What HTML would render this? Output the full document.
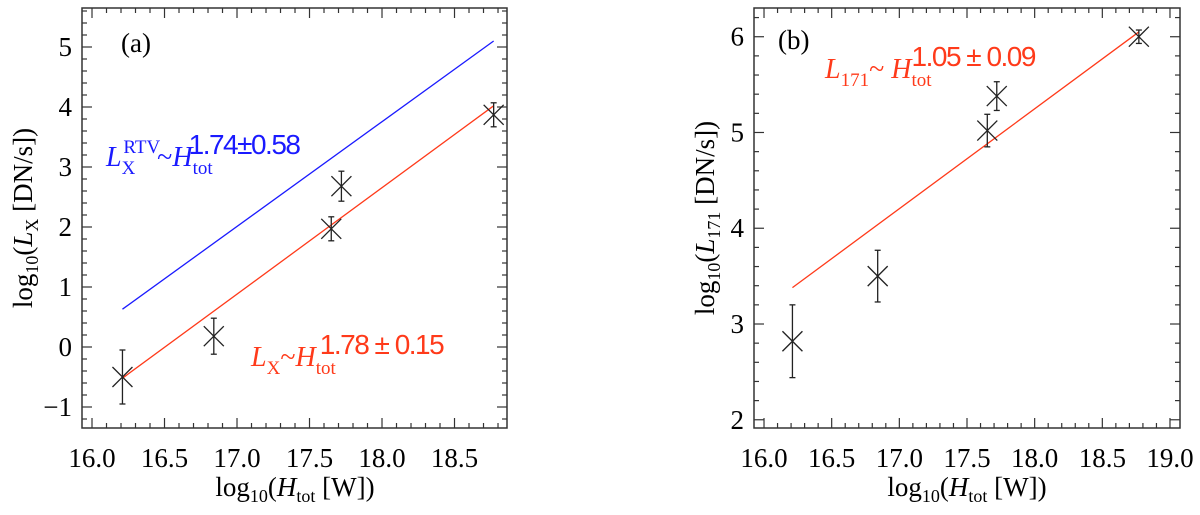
<!DOCTYPE html>
<html><head><meta charset="utf-8"><style>
body{margin:0;background:#fff}
</style></head><body>
<svg id="c" width="1200" height="510" xmlns="http://www.w3.org/2000/svg" font-family="Liberation Serif, serif"></svg>
<script>
const xVals=[16.21,16.84,17.65,17.72,18.77];
const yA=[-0.5,0.18,1.97,2.68,3.87];
const errA=[0.45,0.3,0.2,0.25,0.2];
const yB=[2.82,3.5,5.02,5.38,6.0];
const errB=[0.38,0.27,0.17,0.15,0.07];
const fitRedA=[[16.21,-0.52],[18.77,4.02]];
const fitBlueA=[[16.21,0.63],[18.77,5.1]];
const fitRedB=[[16.21,3.38],[18.77,6.05]];
const xTicksA=[16.0,16.5,17.0,17.5,18.0,18.5];
const yTicksA=[-1,0,1,2,3,4,5];
const xTicksB=[16.0,16.5,17.0,17.5,18.0,18.5,19.0];
const yTicksB=[2,3,4,5,6];
const NS="http://www.w3.org/2000/svg";
const svg=document.getElementById('c');
function mk(t,a,p){const e=document.createElementNS(NS,t);for(const k in a)e.setAttribute(k,a[k]);(p||svg).appendChild(e);return e;}
function panel(P){
 const g=mk('g',{});
 
 
 const X=v=>P.x0+(v-P.xmin)/(P.xmax-P.xmin)*(P.x1-P.x0);
 const Y=v=>P.y1-(v-P.ymin)/(P.ymax-P.ymin)*(P.y1-P.y0);
 const fr=mk('rect',{x:P.x0,y:P.y0,width:P.x1-P.x0,height:P.y1-P.y0,fill:'none',stroke:'#333','stroke-width':1.5},g);
 
 
 for(let v=Math.ceil(P.xmin*10)/10;v<=P.xmax+1e-9;v+=0.1){const px=X(v);const maj=Math.abs(v*2-Math.round(v*2))<1e-6;const L=maj?10:5;
  mk('line',{x1:px,y1:P.y1,x2:px,y2:P.y1-L,stroke:'#333','stroke-width':1.2},g);
  mk('line',{x1:px,y1:P.y0,x2:px,y2:P.y0+L,stroke:'#333','stroke-width':1.2},g);}
 for(let v=Math.ceil(P.ymin*5)/5;v<=P.ymax+1e-9;v+=0.2){const py=Y(v);const maj=Math.abs(v-Math.round(v))<1e-6;const L=maj?10:5;
  mk('line',{x1:P.x0,y1:py,x2:P.x0+L,y2:py,stroke:'#333','stroke-width':1.2},g);
  mk('line',{x1:P.x1,y1:py,x2:P.x1-L,y2:py,stroke:'#333','stroke-width':1.2},g);}
 P.xt.forEach(v=>{const t=mk('text',{x:X(v),y:P.y1+39,'font-size':27,'text-anchor':'middle'},g);t.style.fontFamily='"Liberation Serif", serif';t.textContent=v.toFixed(1);
  });
 P.yt.forEach(v=>{const t=mk('text',{x:P.x0-10,y:Y(v)+9,'font-size':27,'text-anchor':'end'},g);t.style.fontFamily='"Liberation Serif", serif';t.textContent=v<0?'\u2212'+(-v):String(v);
  });
 P.lines.forEach(([d,c,n])=>{const l=mk('line',{x1:X(d[0][0]),y1:Y(d[0][1]),x2:X(d[1][0]),y2:Y(d[1][1]),stroke:c,'stroke-width':1.3},g);
  });
 xVals.forEach((xv,i)=>{const px=X(xv),py=Y(P.ys[i]);const pg=mk('g',{stroke:'#222','stroke-width':1.3},g);
  
  const t=Y(P.ys[i]+P.err[i]),b=Y(P.ys[i]-P.err[i]);
  mk('line',{x1:px,y1:t,x2:px,y2:b},pg);mk('line',{x1:px-3,y1:t,x2:px+3,y2:t},pg);mk('line',{x1:px-3,y1:b,x2:px+3,y2:b},pg);
  mk('line',{x1:px-10,y1:py-10,x2:px+10,y2:py+10},pg);mk('line',{x1:px-10,y1:py+10,x2:px+10,y2:py-10},pg);});
 return g;
}
panel({name:'panel-a',x0:82,x1:507,y0:8,y1:428,xmin:15.931,xmax:18.862,ymin:-1.35,ymax:5.65,xt:xTicksA,yt:yTicksA,ys:yA,err:errA,
 lines:[[fitRedA,'#ff3a1a','fit-line-observed'],[fitBlueA,'#1a1aff','fit-line-rtv']]});
panel({name:'panel-b',x0:754,x1:1180,y0:8,y1:428,xmin:15.926,xmax:19.074,ymin:1.914,ymax:6.30,xt:xTicksB,yt:yTicksB,ys:yB,err:errB,
 lines:[[fitRedB,'#ff3a1a','fit-line-171']]});
</script>
<svg width="1200" height="510" style="position:absolute;left:0;top:0" xmlns="http://www.w3.org/2000/svg">
<g font-family="Liberation Serif, serif">
<text x="121" y="52" font-size="27">(a)</text>
<text x="778" y="49" font-size="27">(b)</text>
<text x="106" y="166" font-size="28" fill="#1a1aff"><tspan font-style="italic">L</tspan><tspan font-size="19" dy="8">X</tspan><tspan font-size="19" dx="-12" dy="-21">RTV</tspan><tspan dx="-3" dy="13">~</tspan><tspan font-style="italic">H</tspan><tspan font-size="19" dy="8">tot</tspan><tspan font-family="Liberation Sans, sans-serif" font-size="28" letter-spacing="-1.5" dx="-24" dy="-20">1.74±0.58</tspan></text>
<text x="251" y="366" font-size="28" fill="#ff3a1a"><tspan font-style="italic">L</tspan><tspan font-size="19" dy="8">X</tspan><tspan dy="-8">~</tspan><tspan font-style="italic">H</tspan><tspan font-size="19" dy="8">tot</tspan><tspan font-family="Liberation Sans, sans-serif" font-size="28" letter-spacing="-1.5" dx="-16" dy="-20">1.78 ± 0.15</tspan></text>
<text x="825" y="78" font-size="28" fill="#ff3a1a"><tspan font-style="italic">L</tspan><tspan font-size="19" dy="8">171</tspan><tspan dy="-8">~ </tspan><tspan font-style="italic">H</tspan><tspan font-size="19" dy="8">tot</tspan><tspan font-family="Liberation Sans, sans-serif" font-size="28" letter-spacing="-1.5" dx="-20" dy="-20">1.05 ± 0.09</tspan></text>
<text x="295" y="496" font-size="27" text-anchor="middle">log<tspan font-size="18" dy="6">10</tspan><tspan dy="-6">(</tspan><tspan font-style="italic">H</tspan><tspan font-size="18" dy="6">tot</tspan><tspan dy="-6"> [W])</tspan></text>
<text x="967" y="496" font-size="27" text-anchor="middle">log<tspan font-size="18" dy="6">10</tspan><tspan dy="-6">(</tspan><tspan font-style="italic">H</tspan><tspan font-size="18" dy="6">tot</tspan><tspan dy="-6"> [W])</tspan></text>
<text transform="translate(32,218) rotate(-90)" font-size="27" text-anchor="middle">log<tspan font-size="18" dy="6">10</tspan><tspan dy="-6">(</tspan><tspan font-style="italic">L</tspan><tspan font-size="18" dy="6">X</tspan><tspan dy="-6"> [DN/s])</tspan></text>
<text transform="translate(714,218) rotate(-90)" font-size="27" text-anchor="middle">log<tspan font-size="18" dy="6">10</tspan><tspan dy="-6">(</tspan><tspan font-style="italic">L</tspan><tspan font-size="18" dy="6">171</tspan><tspan dy="-6"> [DN/s])</tspan></text>
</g></svg>
</body></html>
